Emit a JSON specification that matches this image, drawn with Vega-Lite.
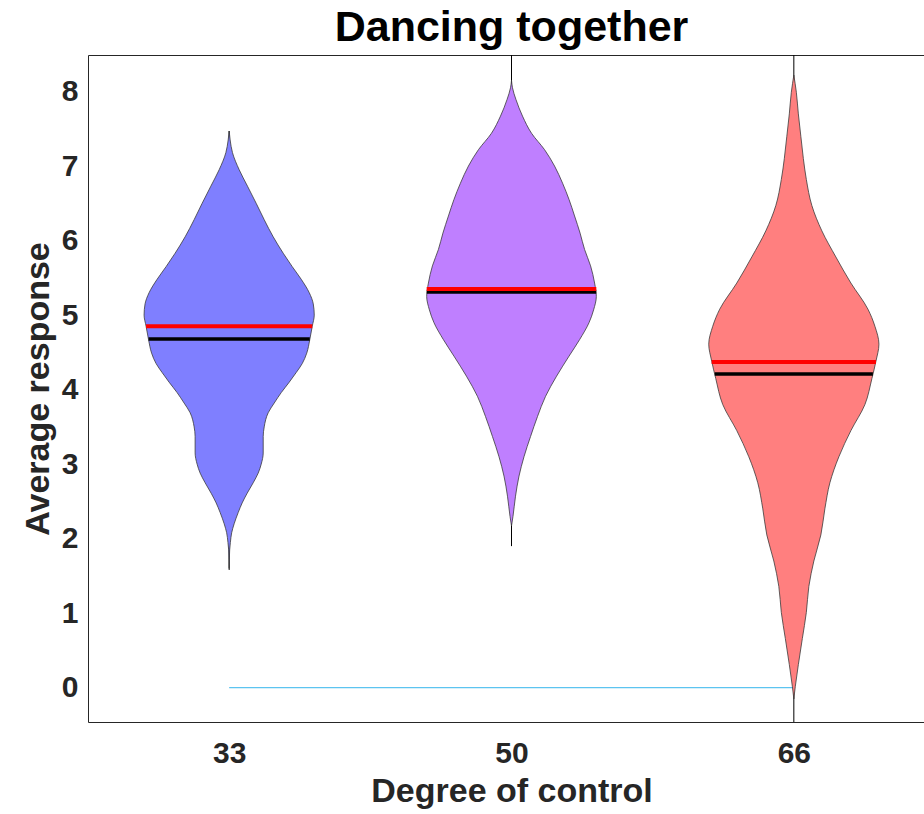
{
  "$schema": "https://vega.github.io/schema/vega-lite/v6.json",
  "autosize": {"type": "none"},
  "padding": {"left": 88, "top": 55, "right": 0, "bottom": 92},
  "width": 847,
  "height": 667,
  "title": {"text": "Dancing together", "font": "Liberation Sans", "fontSize": 43, "fontWeight": "bold", "color": "#000000", "anchor": "middle", "offset": 5},
  "config": {
    "view": {"stroke": "#262626", "strokeWidth": 1},
    "axis": {"labelFont": "Liberation Sans", "labelFontWeight": "bold", "labelFontSize": 30, "labelColor": "#262626", "titleFont": "Liberation Sans", "titleFontWeight": "bold", "titleFontSize": 34, "titleColor": "#262626", "ticks": false, "domain": false, "grid": false}
  },
  "datasets": {
    "violin": [
      {"g":"33","v":7.47,"lo":1.0,"hi":1.0},
      {"g":"33","v":7.35,"lo":0.9965,"hi":1.0035},
      {"g":"33","v":7.18,"lo":0.9883,"hi":1.0117},
      {"g":"33","v":6.95,"lo":0.9645,"hi":1.0355},
      {"g":"33","v":6.73,"lo":0.9351,"hi":1.0649},
      {"g":"33","v":6.5,"lo":0.9043,"hi":1.0957},
      {"g":"33","v":6.28,"lo":0.8759,"hi":1.1241},
      {"g":"33","v":6.05,"lo":0.844,"hi":1.156},
      {"g":"33","v":5.83,"lo":0.8085,"hi":1.1915},
      {"g":"33","v":5.65,"lo":0.7766,"hi":1.2234},
      {"g":"33","v":5.48,"lo":0.7447,"hi":1.2553},
      {"g":"33","v":5.3,"lo":0.7163,"hi":1.2837},
      {"g":"33","v":5.15,"lo":0.7021,"hi":1.2979},
      {"g":"33","v":5.0,"lo":0.6986,"hi":1.3014},
      {"g":"33","v":4.85,"lo":0.7057,"hi":1.2943},
      {"g":"33","v":4.67,"lo":0.7145,"hi":1.2855},
      {"g":"33","v":4.49,"lo":0.7252,"hi":1.2748},
      {"g":"33","v":4.35,"lo":0.7411,"hi":1.2589},
      {"g":"33","v":4.23,"lo":0.7624,"hi":1.2376},
      {"g":"33","v":4.1,"lo":0.7872,"hi":1.2128},
      {"g":"33","v":3.96,"lo":0.8156,"hi":1.1844},
      {"g":"33","v":3.82,"lo":0.8404,"hi":1.1596},
      {"g":"33","v":3.69,"lo":0.8617,"hi":1.1383},
      {"g":"33","v":3.5,"lo":0.8759,"hi":1.1241},
      {"g":"33","v":3.37,"lo":0.8794,"hi":1.1206},
      {"g":"33","v":3.15,"lo":0.8794,"hi":1.1206},
      {"g":"33","v":3.0,"lo":0.8865,"hi":1.1135},
      {"g":"33","v":2.88,"lo":0.8972,"hi":1.1028},
      {"g":"33","v":2.75,"lo":0.9149,"hi":1.0851},
      {"g":"33","v":2.61,"lo":0.9362,"hi":1.0638},
      {"g":"33","v":2.48,"lo":0.9539,"hi":1.0461},
      {"g":"33","v":2.35,"lo":0.9681,"hi":1.0319},
      {"g":"33","v":2.2,"lo":0.9823,"hi":1.0177},
      {"g":"33","v":2.08,"lo":0.9911,"hi":1.0089},
      {"g":"33","v":1.95,"lo":0.9957,"hi":1.0043},
      {"g":"33","v":1.85,"lo":0.9982,"hi":1.0018},
      {"g":"33","v":1.6,"lo":1.0,"hi":1.0},
      {"g":"50","v":8.15,"lo":2.0,"hi":2.0},
      {"g":"50","v":8.05,"lo":1.9965,"hi":2.0035},
      {"g":"50","v":7.89,"lo":1.984,"hi":2.016},
      {"g":"50","v":7.67,"lo":1.961,"hi":2.039},
      {"g":"50","v":7.44,"lo":1.9291,"hi":2.0709},
      {"g":"50","v":7.22,"lo":1.883,"hi":2.117},
      {"g":"50","v":7.0,"lo":1.8475,"hi":2.1525},
      {"g":"50","v":6.77,"lo":1.8191,"hi":2.1809},
      {"g":"50","v":6.55,"lo":1.7961,"hi":2.2039},
      {"g":"50","v":6.33,"lo":1.7766,"hi":2.2234},
      {"g":"50","v":6.1,"lo":1.7571,"hi":2.2429},
      {"g":"50","v":5.88,"lo":1.7411,"hi":2.2589},
      {"g":"50","v":5.66,"lo":1.7199,"hi":2.2801},
      {"g":"50","v":5.43,"lo":1.7057,"hi":2.2943},
      {"g":"50","v":5.25,"lo":1.6996,"hi":2.3004},
      {"g":"50","v":5.07,"lo":1.7092,"hi":2.2908},
      {"g":"50","v":4.9,"lo":1.7252,"hi":2.2748},
      {"g":"50","v":4.67,"lo":1.7589,"hi":2.2411},
      {"g":"50","v":4.45,"lo":1.7961,"hi":2.2039},
      {"g":"50","v":4.18,"lo":1.8404,"hi":2.1596},
      {"g":"50","v":3.91,"lo":1.8794,"hi":2.1206},
      {"g":"50","v":3.64,"lo":1.9078,"hi":2.0922},
      {"g":"50","v":3.37,"lo":1.9326,"hi":2.0674},
      {"g":"50","v":3.1,"lo":1.9557,"hi":2.0443},
      {"g":"50","v":2.84,"lo":1.9734,"hi":2.0266},
      {"g":"50","v":2.57,"lo":1.9858,"hi":2.0142},
      {"g":"50","v":2.3,"lo":1.9947,"hi":2.0053},
      {"g":"50","v":2.17,"lo":2.0,"hi":2.0},
      {"g":"66","v":8.22,"lo":3.0,"hi":3.0},
      {"g":"66","v":7.99,"lo":2.9911,"hi":3.0089},
      {"g":"66","v":7.7,"lo":2.984,"hi":3.016},
      {"g":"66","v":7.4,"lo":2.9752,"hi":3.0248},
      {"g":"66","v":7.1,"lo":2.9663,"hi":3.0337},
      {"g":"66","v":6.82,"lo":2.9557,"hi":3.0443},
      {"g":"66","v":6.47,"lo":2.9362,"hi":3.0638},
      {"g":"66","v":6.13,"lo":2.9007,"hi":3.0993},
      {"g":"66","v":5.78,"lo":2.8511,"hi":3.1489},
      {"g":"66","v":5.43,"lo":2.7979,"hi":3.2021},
      {"g":"66","v":5.08,"lo":2.7376,"hi":3.2624},
      {"g":"66","v":4.85,"lo":2.7128,"hi":3.2872},
      {"g":"66","v":4.61,"lo":2.6986,"hi":3.3014},
      {"g":"66","v":4.38,"lo":2.7092,"hi":3.2908},
      {"g":"66","v":4.15,"lo":2.7234,"hi":3.2766},
      {"g":"66","v":3.8,"lo":2.7482,"hi":3.2518},
      {"g":"66","v":3.45,"lo":2.7979,"hi":3.2021},
      {"g":"66","v":3.1,"lo":2.8404,"hi":3.1596},
      {"g":"66","v":2.75,"lo":2.8723,"hi":3.1277},
      {"g":"66","v":2.4,"lo":2.8901,"hi":3.1099},
      {"g":"66","v":2.05,"lo":2.9043,"hi":3.0957},
      {"g":"66","v":1.7,"lo":2.9291,"hi":3.0709},
      {"g":"66","v":1.36,"lo":2.9468,"hi":3.0532},
      {"g":"66","v":1.01,"lo":2.9557,"hi":3.0443},
      {"g":"66","v":0.66,"lo":2.9699,"hi":3.0301},
      {"g":"66","v":0.31,"lo":2.984,"hi":3.016},
      {"g":"66","v":0.02,"lo":2.9947,"hi":3.0053},
      {"g":"66","v":-0.15,"lo":3.0,"hi":3.0}
    ],
    "centers": [
      {"g":"33","pos":1,"ymin":1.58,"ymax":7.47},
      {"g":"50","pos":2,"ymin":1.9,"ymax":8.49},
      {"g":"66","pos":3,"ymin":-0.46,"ymax":8.49}
    ],
    "stats": [
      {"g":"33","kind":"median","v":4.68,"lo":0.7145,"hi":1.2855},
      {"g":"50","kind":"median","v":5.31,"lo":1.7,"hi":2.3},
      {"g":"66","kind":"median","v":4.21,"lo":2.72,"hi":3.28},
      {"g":"33","kind":"mean","v":4.85,"lo":0.7057,"hi":1.2943},
      {"g":"50","kind":"mean","v":5.35,"lo":1.6996,"hi":2.3004},
      {"g":"66","kind":"mean","v":4.37,"lo":2.709,"hi":3.291}
    ],
    "sig": [
      {"y":0,"x1":1,"x2":3}
    ]
  },
  "layer": [
    {
      "data": {"name": "centers"},
      "mark": {"type": "rule", "color": "#000000", "strokeWidth": 1, "clip": true},
      "encoding": {
        "x": {"field": "pos", "type": "quantitative", "scale": {"domain": [0.5, 3.5], "nice": false, "zero": false},
              "axis": {"values": [1, 2, 3], "labelExpr": "datum.value == 1 ? '33' : datum.value == 2 ? '50' : '66'", "labelPadding": 16, "titlePadding": 6, "title": "Degree of control"}},
        "y": {"field": "ymin", "type": "quantitative", "scale": {"domain": [-0.46, 8.49], "nice": false, "zero": false},
              "axis": {"values": [0, 1, 2, 3, 4, 5, 6, 7, 8], "format": "d", "labelPadding": 10, "titlePadding": 6, "title": "Average response"}},
        "y2": {"field": "ymax"}
      }
    },
    {
      "data": {"name": "sig"},
      "mark": {"type": "rule", "color": "#5CC4F0", "strokeWidth": 1.2},
      "encoding": {
        "x": {"field": "x1", "type": "quantitative", "title": "Degree of control"},
        "x2": {"field": "x2"},
        "y": {"field": "y", "type": "quantitative", "title": "Average response"}
      }
    },
    {
      "data": {"name": "violin"},
      "mark": {"type": "area", "orient": "horizontal", "interpolate": "monotone", "stroke": "#3a3a3a", "strokeWidth": 0.8, "fillOpacity": 1},
      "encoding": {
        "y": {"field": "v", "type": "quantitative", "title": "Average response"},
        "x": {"field": "lo", "type": "quantitative", "title": "Degree of control"},
        "x2": {"field": "hi"},
        "color": {"field": "g", "type": "nominal", "scale": {"domain": ["33", "50", "66"], "range": ["#7F7FFF", "#BF7FFF", "#FF7F7F"]}, "legend": null}
      }
    },
    {
      "data": {"name": "stats"},
      "transform": [{"filter": "datum.kind == 'median'"}],
      "mark": {"type": "rule", "color": "#000000", "strokeWidth": 3.5},
      "encoding": {
        "y": {"field": "v", "type": "quantitative", "title": "Average response"},
        "x": {"field": "lo", "type": "quantitative", "title": "Degree of control"},
        "x2": {"field": "hi"}
      }
    },
    {
      "data": {"name": "stats"},
      "transform": [{"filter": "datum.kind == 'mean'"}],
      "mark": {"type": "rule", "color": "#FF0000", "strokeWidth": 4},
      "encoding": {
        "y": {"field": "v", "type": "quantitative", "title": "Average response"},
        "x": {"field": "lo", "type": "quantitative", "title": "Degree of control"},
        "x2": {"field": "hi"}
      }
    }
  ]
}
